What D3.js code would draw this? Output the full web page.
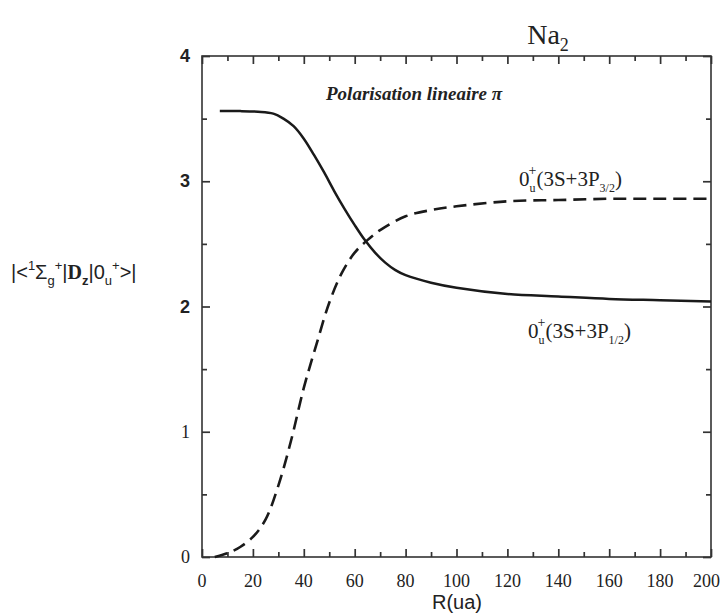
<!DOCTYPE html>
<html><head><meta charset="utf-8">
<script src="https://cdn.jsdelivr.net/npm/d3@7"></script>
<style>body{margin:0;background:#fff}</style>
</head><body>
<svg id="c" width="721" height="613"></svg>
<script>
const solidR = [7, 15, 22, 28, 32, 36, 40, 44, 48, 52, 56, 60, 64, 68, 72, 76, 80, 90, 100, 120, 140, 160, 180, 200];
const solidV = [3.56, 3.56, 3.555, 3.54, 3.5, 3.44, 3.34, 3.21, 3.07, 2.92, 2.78, 2.65, 2.53, 2.43, 2.35, 2.29, 2.25, 2.19, 2.15, 2.1, 2.08, 2.06, 2.05, 2.04];
const dashR = [5, 10, 15, 20, 25, 30, 35, 40, 45, 50, 55, 60, 65, 70, 80, 90, 100, 120, 140, 160, 180, 200];
const dashV = [0, 0.03, 0.08, 0.16, 0.3, 0.57, 0.93, 1.35, 1.7, 2.03, 2.27, 2.43, 2.53, 2.61, 2.72, 2.77, 2.8, 2.84, 2.85, 2.86, 2.86, 2.86];
const xTicks = [0, 20, 40, 60, 80, 100, 120, 140, 160, 180, 200];
const xMinor = [10, 30, 50, 70, 90, 110, 130, 150, 170, 190];
const yTicks = [0, 1, 2, 3, 4];
const yMinor = [0.5, 1.5, 2.5, 3.5];

const svg = d3.select("#c");
const L = 202, R = 711, T = 56, B = 557;
const x = d3.scaleLinear().domain([0, 200]).range([L, R]);
const y = d3.scaleLinear().domain([0, 4]).range([B, T]);
const ink = "#222";
const axisCol = "#333";

function styleAxis(sel) {
  sel.select(".domain").remove();
  sel.selectAll(".tick line").attr("stroke", axisCol).attr("stroke-width", 1.7);
  sel.selectAll(".tick text").remove();
}
// inward ticks on all sides
[[d3.axisBottom(x).tickValues(xTicks).tickSize(-8), `translate(0,${B})`],
 [d3.axisBottom(x).tickValues(xMinor).tickSize(-5), `translate(0,${B})`],
 [d3.axisTop(x).tickValues(xTicks).tickSize(-8), `translate(0,${T})`],
 [d3.axisTop(x).tickValues(xMinor).tickSize(-5), `translate(0,${T})`],
 [d3.axisLeft(y).tickValues(yTicks).tickSize(-8), `translate(${L},0)`],
 [d3.axisLeft(y).tickValues(yMinor).tickSize(-5), `translate(${L},0)`],
 [d3.axisRight(y).tickValues(yTicks).tickSize(-8), `translate(${R},0)`],
 [d3.axisRight(y).tickValues(yMinor).tickSize(-5), `translate(${R},0)`]
].forEach(([ax, tr]) => svg.append("g").attr("transform", tr).call(ax).call(styleAxis));

// frame
svg.append("rect").attr("x", L).attr("y", T).attr("width", R - L).attr("height", B - T)
  .attr("fill", "none").attr("stroke", axisCol).attr("stroke-width", 1.6);

// tick labels
svg.append("g").selectAll("text").data(xTicks).join("text")
  .attr("x", d => d === 200 ? 720 : x(d)).attr("y", 587)
  .attr("text-anchor", d => d === 200 ? "end" : "middle")
  .attr("font-family", "Liberation Serif").attr("font-size", 18).attr("fill", ink)
  .text(d => d);
svg.append("g").selectAll("text").data(yTicks).join("text")
  .attr("x", 190).attr("y", d => y(d) + 6).attr("text-anchor", "end")
  .attr("font-family", d => d < 2 ? "Liberation Serif" : "Liberation Sans")
  .attr("font-weight", d => d < 2 ? "normal" : "bold")
  .attr("font-size", 18).attr("fill", ink)
  .text(d => d);

// x axis label
svg.append("text").attr("x", 457).attr("y", 609).attr("text-anchor", "middle")
  .attr("font-family", "Liberation Sans").attr("font-size", 20).attr("fill", ink).text("R(ua)");

// title
const tt = svg.append("text").attr("x", 548).attr("y", 44).attr("text-anchor", "middle")
  .attr("font-family", "Liberation Serif").attr("font-size", 28).attr("fill", ink);
tt.append("tspan").text("Na");
tt.append("tspan").attr("font-size", 18).attr("dy", 7).text("2");

// y label
const yl = svg.append("text").attr("x", 11).attr("y", 279)
  .attr("font-family", "Liberation Sans").attr("font-size", 20).attr("fill", ink);
yl.append("tspan").text("|<");
yl.append("tspan").attr("font-size", 13).attr("dy", -9).text("1");
yl.append("tspan").attr("dy", 9).text("Σ");
yl.append("tspan").attr("font-size", 13).attr("dy", 6).text("g");
yl.append("tspan").attr("font-size", 13).attr("dy", -15).text("+");
yl.append("tspan").attr("dy", 9).text("|");
yl.append("tspan").attr("font-weight", "bold").attr("font-family", "Liberation Serif").text("D");
yl.append("tspan").attr("font-size", 13).attr("font-weight", "bold").attr("dy", 6).text("z");
yl.append("tspan").attr("dy", -6).text("|0");
yl.append("tspan").attr("font-size", 13).attr("dy", 6).text("u");
yl.append("tspan").attr("font-size", 13).attr("dy", -15).text("+");
yl.append("tspan").attr("dy", 9).text(">|");

// curves
const line = d3.line().x(d => x(d[0])).y(d => y(d[1])).curve(d3.curveCatmullRom.alpha(0.5));
svg.append("path").datum(d3.zip(solidR, solidV)).attr("d", line)
  .attr("fill", "none").attr("stroke", "#1a1a1a").attr("stroke-width", 2.5);
svg.append("path").datum(d3.zip(dashR, dashV)).attr("d", line)
  .attr("fill", "none").attr("stroke", "#1a1a1a").attr("stroke-width", 2.6)
  .attr("stroke-dasharray", "13,7");

// annotations
svg.append("text").attr("x", 326).attr("y", 100)
  .attr("font-family", "Liberation Serif").attr("font-style", "italic").attr("font-weight", "bold")
  .attr("font-size", 19).attr("fill", ink).text("Polarisation lineaire π");

function stateLabel(xp, yp, sub) {
  const t = svg.append("text").attr("x", xp).attr("y", yp)
    .attr("font-family", "Liberation Serif").attr("font-size", 21).attr("fill", ink);
  t.append("tspan").text("0");
  t.append("tspan").attr("font-size", 12).attr("dy", 6).text("u");
  t.append("tspan").attr("font-size", 14).attr("dy", -17).attr("dx", -7).text("+");
  t.append("tspan").attr("dy", 11).text("(3S+3P");
  t.append("tspan").attr("font-size", 12).attr("dy", 6).text(sub);
  t.append("tspan").attr("dy", -6).text(")");
}
stateLabel(519, 186, "3/2");
stateLabel(528, 338, "1/2");
</script>
</body></html>
